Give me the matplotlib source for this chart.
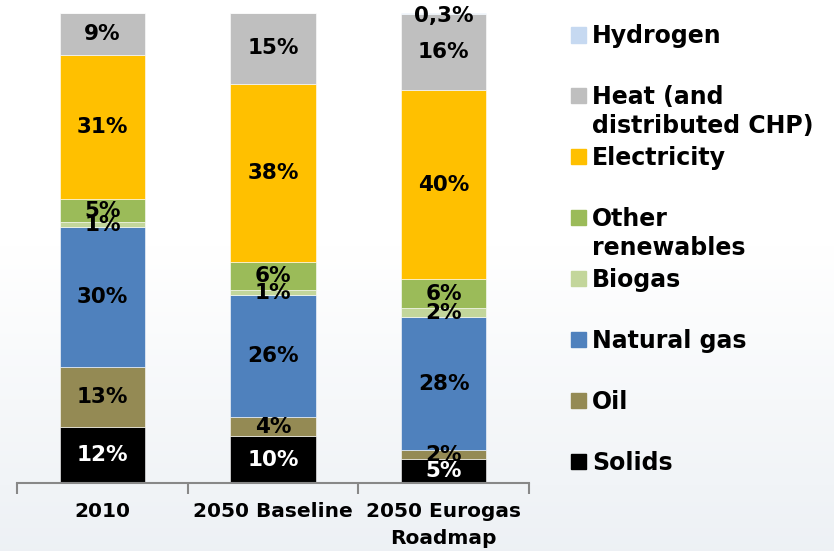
import numpy as np
import matplotlib
matplotlib.use("Agg")
import matplotlib.pyplot as plt
from matplotlib.patches import Rectangle

plt.rcParams['font.family'] = ['DejaVu Sans']

# Final energy demand shares per scenario (%)
categories = ['2010', '2050 Baseline', '2050 Eurogas\nRoadmap']
sources = ['Solids', 'Oil', 'Natural gas', 'Biogas', 'Other\nrenewables',
           'Electricity', 'Heat (and\ndistributed CHP)', 'Hydrogen']
solids = [12, 10, 5]
oil = [13, 4, 2]
natural_gas = [30, 26, 28]
biogas = [1, 1, 2]
other_renewables = [5, 6, 6]
electricity = [31, 38, 40]
heat = [9, 15, 16]
hydrogen = [0, 0, 0.3]

colors = ['#000000', '#948A54', '#4F81BD', '#C3D69B', '#9BBB59',
          '#FFC000', '#BFBFBF', '#C6D9F1']

series = [solids, oil, natural_gas, biogas, other_renewables,
          electricity, heat, hydrogen]
data = np.array(series, dtype=float)
# 100% stacked: each column scaled to its own total
shares = data / data.sum(axis=0) * 100

W, H = 834, 551
fig = plt.figure(figsize=(W / 100, H / 100), dpi=100)

# faint background gradient towards the bottom
bg = fig.add_axes([0, 0, 1, 1], zorder=-5)
grad = np.linspace(0, 1, 256)[:, None]
grad = np.clip((grad - 0.45) / 0.55, 0, 1)
top = np.array([1.0, 1.0, 1.0])
bottom = np.array([0.93, 0.945, 0.96])
img = top + (bottom - top) * grad[..., None]
img = np.repeat(img, 4, axis=1)
bg.imshow(img, aspect='auto', extent=[0, 1, 0, 1], origin='upper')
bg.axis('off')

ax = fig.add_axes([17 / W, 1 - 483 / H, 512 / W, 470 / H])
ax.patch.set_alpha(0)
x = np.arange(len(categories))
base = np.zeros(len(categories))
for i, (vals, col) in enumerate(zip(data, colors)):
    h = shares[i]
    ax.bar(x, h, bottom=base, width=0.5, color=col,
           edgecolor='white', linewidth=0.4)
    for j in range(len(categories)):
        if vals[j] <= 0:
            continue
        txt = f'{vals[j]:.1f}%'.replace('.', ',') if vals[j] < 1 else f'{vals[j]:.0f}%'
        yc = base[j] + h[j] / 2
        if vals[j] < 1:
            yc -= 0.4
        ax.text(x[j], yc, txt, ha='center', va='center',
                fontsize=15.5, fontweight='bold',
                color='white' if i == 0 else 'black')
    base += h

ax.set_xlim(-0.5, 2.5)
ax.set_ylim(0, 100)
ax.set_yticks([])
ax.set_xticks(x, categories, fontsize=14.5, fontweight='bold', linespacing=1.55)
ax.tick_params(axis='x', which='major', length=0, pad=13.5)
ax.set_xticks([-0.5, 0.5, 1.5, 2.5], minor=True)
ax.tick_params(axis='x', which='minor', length=8, width=1.5, color='#888888')
for s in ['top', 'left', 'right']:
    ax.spines[s].set_visible(False)
ax.spines['bottom'].set_color('#888888')
ax.spines['bottom'].set_linewidth(1.5)

# legend, drawn top to bottom from Hydrogen down to Solids
for k, i in enumerate(range(len(sources) - 1, -1, -1)):
    yc = 35 + k * 60.9
    fig.patches.append(Rectangle((571 / W, 1 - (yc + 7.5) / H), 15 / W, 15 / H,
                                 transform=fig.transFigure, color=colors[i]))
    for n, line in enumerate(sources[i].split('\n')):
        fig.text(592 / W, 1 - (yc + 1.5 + n * 28.5) / H, line,
                 ha='left', va='center', fontsize=17, fontweight='bold')

fig.savefig('out.png', dpi=100)
